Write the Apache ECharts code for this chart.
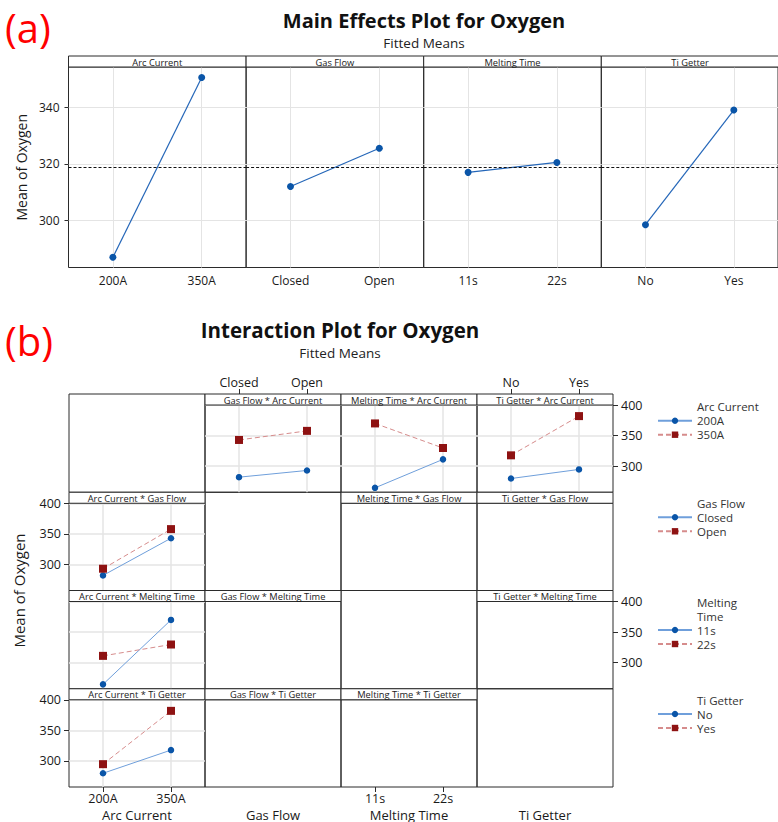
<!DOCTYPE html>
<html>
<head>
<meta charset="utf-8">
<script src="https://cdn.jsdelivr.net/npm/echarts@6/dist/echarts.min.js"></script>
<style>
  html, body { margin: 0; padding: 0; background: #fff; }
  #chart { width: 778px; height: 822px; }
</style>
</head>
<body>
<div id="chart"></div>
<script>
const factorNames = ['Arc Current', 'Gas Flow', 'Melting Time', 'Ti Getter'];
const factorLevels = [['200A', '350A'], ['Closed', 'Open'], ['11s', '22s'], ['No', 'Yes']];

// (a) main effects, fitted means
const arcCurrentMeans = [287, 350.5];
const gasFlowMeans = [312, 325.5];
const meltingTimeMeans = [317, 320.5];
const tiGetterMeans = [298.5, 339];
const overallMean = 318.75;
const mainTicks = [300, 320, 340];

// (b) interaction cell means, rows = Arc Current 200A / 350A
const arcByGasFlow = [[281.7, 292.7], [342.7, 357.6]];
const arcByMeltingTime = [[264.2, 310.9], [369.8, 329.5]];
const arcByTiGetter = [[279.5, 294.4], [317.5, 381.8]];
const interTicks = [300, 350, 400];

const chart = echarts.init(document.getElementById('chart'), null, { renderer: 'svg' });

const FONT = 'Open Sans';
const TEXT = '#1a1a1a';
const FRAME = '#2b2b2b';
const GRIDLINE = '#e4e4e4';
const BLUE = '#0a55a8';
const BLUE_LINE = '#6f9fdb';
const RED = '#8e1212';
const RED_LINE = '#d68c8c';

const grids = [];
const xAxes = [];
const yAxes = [];
const series = [];
const graphics = [];
const legends = [];

function addHeader(x, y, w, h, label) {
  graphics.push({
    type: 'rect',
    shape: { x: x, y: y, width: w, height: h },
    style: { fill: '#fff', stroke: FRAME, lineWidth: 1 },
    z: 100,
  });
  graphics.push({
    type: 'text',
    x: x + w / 2,
    y: y + h / 2 + 0.5,
    style: {
      text: label,
      font: '9.3px "Open Sans"',
      fill: TEXT,
      textAlign: 'center',
      textVerticalAlign: 'middle',
      verticalAlign: 'middle',
    },
    z: 101,
  });
}

function labelStyle(extra) {
  return Object.assign({ fontFamily: FONT, fontSize: 12, color: TEXT }, extra);
}

// ---- (a) main effects panels
const mainMeans = [arcCurrentMeans, gasFlowMeans, meltingTimeMeans, tiGetterMeans];
const A = { left: 68.5, top: 67, w: 177.6, h: 200.5, head: 11 };

mainMeans.forEach((means, i) => {
  const gi = grids.length;
  const x = A.left + i * A.w;
  grids.push({ left: x, top: A.top, width: A.w, height: A.h, show: true, borderColor: FRAME, borderWidth: 1 });
  addHeader(x, A.top - A.head, A.w, A.head, factorNames[i]);
  xAxes.push({
    gridIndex: gi, type: 'value', min: -0.5, max: 1.5,
    axisLine: { show: false, onZero: false },
    axisTick: { show: false, customValues: [0, 1] },
    axisLabel: labelStyle({ customValues: [0, 1], margin: 7, formatter: (v) => factorLevels[i][v] }),
    splitLine: { show: true, lineStyle: { color: GRIDLINE } },
  });
  yAxes.push({
    gridIndex: gi, type: 'value', min: 283.4, max: 354.2,
    axisLine: { show: false, onZero: false },
    axisTick: { show: i === 0, customValues: mainTicks, length: 4, lineStyle: { color: FRAME } },
    axisLabel: labelStyle({ show: i === 0, customValues: mainTicks, margin: 9 }),
    splitLine: { show: true, lineStyle: { color: GRIDLINE } },
    name: i === 0 ? 'Mean of Oxygen' : '',
    nameLocation: 'middle',
    nameGap: 40,
    nameTextStyle: { fontFamily: FONT, fontSize: 14, color: TEXT },
  });
  series.push({
    type: 'line', xAxisIndex: gi, yAxisIndex: gi,
    data: means.map((v, k) => [k, v]),
    symbol: 'circle', symbolSize: 7,
    itemStyle: { color: BLUE },
    lineStyle: { color: '#2466b8', width: 1.2 },
    animation: false,
    markLine: {
      silent: true, symbol: 'none', label: { show: false },
      lineStyle: { color: '#111', type: [3, 2], width: 1 },
      data: [{ yAxis: overallMean }],
    },
  });
});

// ---- (b) interaction matrix
const B = { left: 69, top: 394, w: 136, h: 98.25, head: 11 };
const pairData = [null, arcByGasFlow, arcByMeltingTime, arcByTiGetter];

function traceSeries(k, name, gi, data) {
  const first = k === 0;
  return {
    type: 'line', name: name, xAxisIndex: gi, yAxisIndex: gi, data: data,
    symbol: first ? 'circle' : 'rect',
    symbolSize: first ? 6.5 : 8,
    itemStyle: { color: first ? BLUE : RED },
    lineStyle: { color: first ? BLUE_LINE : RED_LINE, width: 1, type: first ? 'solid' : [5, 3] },
    animation: false,
  };
}

for (let r = 0; r < 4; r++) {
  for (let c = 0; c < 4; c++) {
    const gi = grids.length;
    const diag = r === c;
    const cx = B.left + c * B.w;
    const cy = B.top + r * B.h;
    const py = diag ? cy : cy + B.head;
    grids.push({ left: cx, top: py, width: B.w, height: cy + B.h - py, show: true, borderColor: FRAME, borderWidth: 1 });
    if (!diag) addHeader(cx, cy, B.w, B.head, factorNames[c] + ' * ' + factorNames[r]);

    const hasData = !diag && (r === 0 || c === 0);
    const topLabels = r === 0 && c % 2 === 1;
    const bottomLabels = r === 3 && c % 2 === 0;
    const leftLabels = c === 0 && r % 2 === 1;
    const rightLabels = c === 3 && r % 2 === 0;

    xAxes.push({
      gridIndex: gi, type: 'value', min: -0.5, max: 1.5,
      position: topLabels ? 'top' : 'bottom',
      offset: topLabels ? B.head : 0,
      axisLine: { show: false, onZero: false },
      axisTick: { show: topLabels || bottomLabels, customValues: [0, 1], length: 5, lineStyle: { color: FRAME } },
      axisLabel: labelStyle({ show: topLabels || bottomLabels, customValues: [0, 1], margin: 5, fontSize: 12.5, formatter: (v) => factorLevels[c][v] }),
      splitLine: { show: hasData, lineStyle: { color: GRIDLINE, width: 1.5 } },
      name: r === 3 ? factorNames[c] : '',
      nameLocation: 'middle',
      nameGap: 21,
      nameTextStyle: { fontFamily: FONT, fontSize: 13, color: TEXT },
    });
    yAxes.push({
      gridIndex: gi, type: 'value', min: 257, max: 400,
      position: rightLabels ? 'right' : 'left',
      axisLine: { show: false, onZero: false },
      axisTick: { show: leftLabels || rightLabels, customValues: interTicks, length: 5, lineStyle: { color: FRAME } },
      axisLabel: labelStyle({ show: leftLabels || rightLabels, customValues: interTicks, margin: 8, fontSize: 12.5 }),
      splitLine: { show: hasData, lineStyle: { color: GRIDLINE, width: 1.5 } },
    });

    if (hasData) {
      for (let k = 0; k < 2; k++) {
        if (r === 0) {
          series.push(traceSeries(k, factorLevels[0][k], gi, pairData[c][k].map((v, j) => [j, v])));
        } else {
          series.push(traceSeries(k, factorLevels[r][k], gi, pairData[r].map((row, j) => [j, row[k]])));
        }
      }
    }
  }
}

// legends on the right, one per factor
const legendTitleY = [406.7, 503.3, 602, 700];
const legendFirstItemY = [420.7, 517.3, 630, 714];
const legendTitles = ['Arc Current', 'Gas Flow', 'Melting\nTime', 'Ti Getter'];

factorNames.forEach((f, g) => {
  legends.push({
    orient: 'vertical',
    left: 657,
    top: legendFirstItemY[g] - 7,
    padding: 0,
    itemWidth: 34,
    itemHeight: 8,
    itemGap: 0,
    selectedMode: false,
    data: factorLevels[g],
    textStyle: { fontFamily: FONT, fontSize: 11.5, color: '#333', lineHeight: 14 },
  });
  graphics.push({
    type: 'text',
    x: 697,
    y: legendTitleY[g] - 7,
    style: {
      text: legendTitles[g],
      font: '11.5px "Open Sans"',
      fill: '#333',
      lineHeight: 14,
      textAlign: 'left',
      textVerticalAlign: 'top',
      verticalAlign: 'top',
    },
  });
});

graphics.push({
  type: 'text',
  x: 18.5,
  y: 590.5,
  rotation: Math.PI / 2,
  style: {
    text: 'Mean of Oxygen',
    font: '15px "Open Sans"',
    fill: TEXT,
    textAlign: 'center',
    textVerticalAlign: 'middle',
    verticalAlign: 'middle',
  },
});

const option = {
  backgroundColor: '#fff',
  animation: false,
  title: [
    { text: '(a)', left: 5, top: 5, padding: 0, textStyle: { color: '#ff0000', fontSize: 40, fontWeight: 'normal', fontFamily: FONT, lineHeight: 44 } },
    {
      text: 'Main Effects Plot for Oxygen', subtext: 'Fitted Means',
      left: 424, top: 9, textAlign: 'center', padding: 0, itemGap: 4,
      textStyle: { color: '#111', fontSize: 20, fontWeight: 'bold', fontFamily: FONT, lineHeight: 22 },
      subtextStyle: { color: '#222', fontSize: 13.5, fontFamily: FONT, lineHeight: 16 },
    },
    { text: '(b)', left: 5, top: 318, padding: 0, textStyle: { color: '#ff0000', fontSize: 40, fontWeight: 'normal', fontFamily: FONT, lineHeight: 44 } },
    {
      text: 'Interaction Plot for Oxygen', subtext: 'Fitted Means',
      left: 340, top: 319, textAlign: 'center', padding: 0, itemGap: 4,
      textStyle: { color: '#111', fontSize: 20.5, fontWeight: 'bold', fontFamily: FONT, lineHeight: 22 },
      subtextStyle: { color: '#222', fontSize: 13.5, fontFamily: FONT, lineHeight: 16 },
    },
  ],
  legend: legends,
  grid: grids,
  xAxis: xAxes,
  yAxis: yAxes,
  series: series,
  graphic: { elements: graphics },
};

chart.setOption(option);
</script>
</body>
</html>
